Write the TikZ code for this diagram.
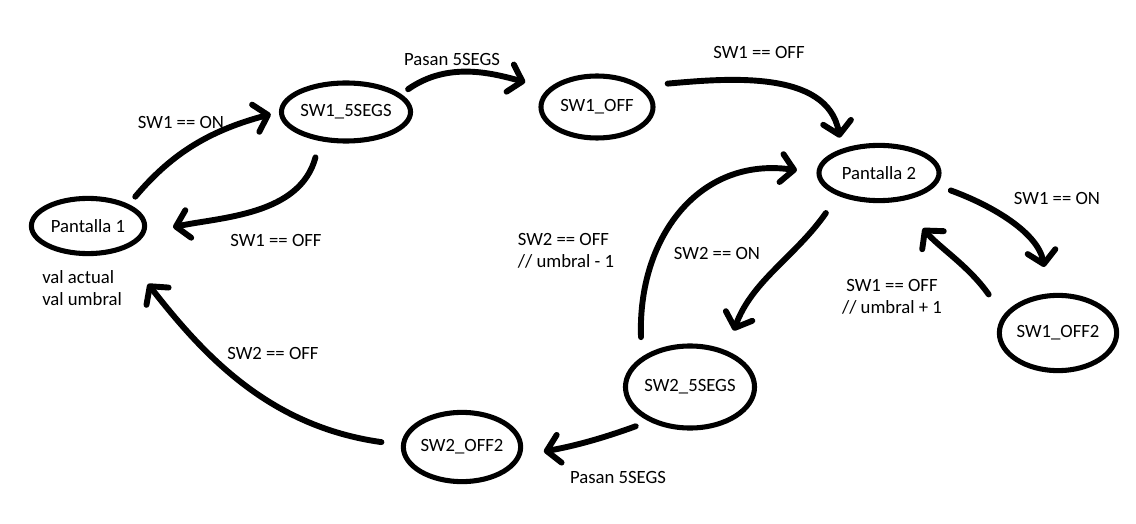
\documentclass[tikz,border=0pt]{standalone}
\usepackage{fontspec}
\setmainfont{Carlito}
\usetikzlibrary{arrows.meta,shapes.geometric}

\begin{document}
\begin{tikzpicture}[
  x=0.025cm, y=0.025cm,
  state/.style={ellipse, draw=black, line width=3.6pt, inner sep=0pt,
                font=\fontsize{13.3}{15.6}\selectfont},
  cond/.style={font=\fontsize{13.3}{15.6}\selectfont, align=center, inner sep=0pt},
  trans/.style={line width=4.2pt, line cap=round, line join=round,
                -{Straight Barb[length=9pt,width=20pt,round]}}
]
  \useasboundingbox (0,0) rectangle (1136,-524);

  % ===== States =====
  \node[state, minimum width=2.83cm, minimum height=1.38cm] (pant1) at (88,-226) {Pantalla 1};
  \node[state, minimum width=2.9cm, minimum height=1.45cm] (sw1seg) at (346,-112) {SW1\_5SEGS};
  \node[state, minimum width=2.8cm, minimum height=1.55cm] (sw1off) at (597,-107) {SW1\_OFF};
  \node[state, minimum width=3.0cm, minimum height=1.38cm] (pant2) at (879,-173) {Pantalla 2};
  \node[state, minimum width=2.63cm, minimum height=1.88cm] (sw1off2) at (1058,-333) {SW1\_OFF2};
  \node[state, minimum width=2.78cm, minimum height=2.05cm] (sw2seg) at (690,-387) {SW2\_5SEGS};
  \node[state, minimum width=2.83cm, minimum height=1.73cm] (sw2off2) at (462,-447) {SW2\_OFF2};

  % values shown on screen 1
  \node[cond, align=left, anchor=west] (vals) at (42,-288) {val actual\\val umbral};

  % ===== Transitions =====
  \draw[trans, shorten <=7pt, shorten >=6pt] (pant1.28) to[out=50, in=195] (sw1seg.west);
  \draw[trans, shorten <=12pt, shorten >=20pt] (sw1seg.228) to[out=255, in=12] (pant1.-7);
  \draw[trans, shorten <=6pt, shorten >=17pt] (sw1seg.18) to[out=35, in=165] (sw1off.159);
  \draw[trans, shorten <=18pt, shorten >=8pt] (sw1off.25) to[out=5, in=100] (pant2.147);
  \draw[trans, shorten <=14pt, shorten >=14pt] (sw2seg.148) to[out=92, in=172, looseness=1.2] (pant2.west);
  \draw[trans, shorten <=15pt, shorten >=15pt] (pant2.209) to[out=235, in=70] (sw2seg.45);
  \draw[trans, shorten <=11pt, shorten >=19pt] (pant2.-12) to[out=-20, in=100] (sw1off2.103);
  \draw[trans, shorten <=18pt, shorten >=25pt] (sw1off2.162) to[out=125, in=-50] (pant2.-53);
  \draw[trans, shorten <=10pt, shorten >=16pt] (sw2seg.220) to[out=200, in=10] (sw2off2.-8);
  \draw[trans, shorten <=14pt, shorten >=30pt] (sw2off2.178) to[out=172, in=-52] (pant1.-36);

  % ===== Conditions =====
  \node[cond] (c1on) at (181,-122) {SW1 == ON};
  \node[cond] (c1off) at (276,-240) {SW1 == OFF};
  \node[cond] (pasan1) at (452,-60) {Pasan 5SEGS};
  \node[cond] (c1offb) at (759,-52) {SW1 == OFF};
  \node[cond, align=left] (c2off) at (566,-251) {SW2 == OFF\\// umbral - 1};
  \node[cond] (c2on) at (717,-253) {SW2 == ON};
  \node[cond] (c1onb) at (1057,-198) {SW1 == ON};
  \node[cond] (c1offc) at (892,-297) {SW1 == OFF\\// umbral + 1};
  \node[cond] (c2offb) at (273,-353) {SW2 == OFF};
  \node[cond] (pasan2) at (618,-477) {Pasan 5SEGS};
\end{tikzpicture}
\end{document}
